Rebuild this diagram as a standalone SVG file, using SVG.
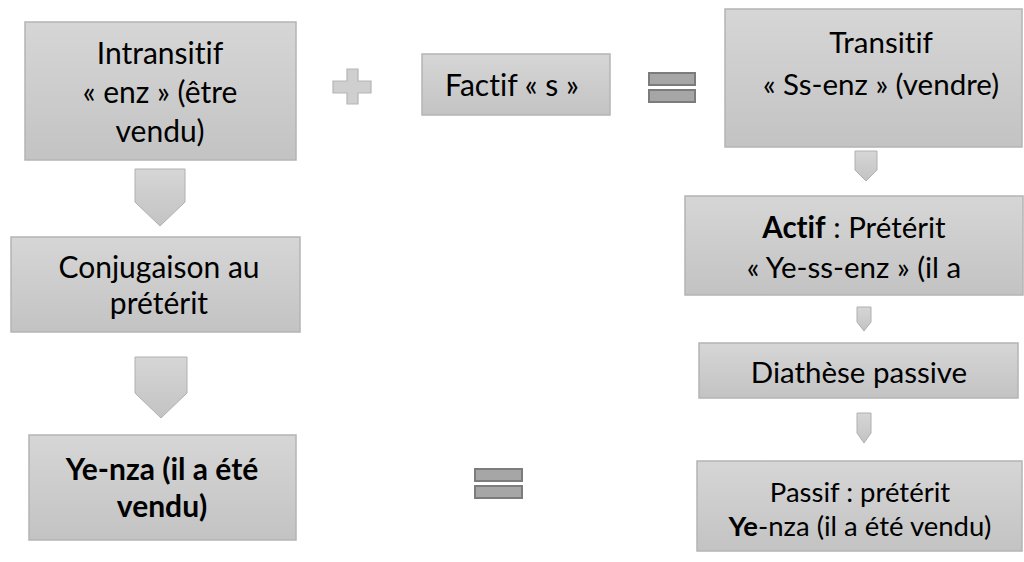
<svg xmlns="http://www.w3.org/2000/svg" width="1024" height="562" viewBox="0 0 1024 562">
<defs>
<linearGradient id="g" x1="0" y1="0" x2="0" y2="1">
<stop offset="0" stop-color="#d6d6d6"/>
<stop offset="1" stop-color="#c3c3c3"/>
</linearGradient>
<style>
.box{fill:url(#g);stroke:#b4b4b4;stroke-width:1.5}
.arr{fill:url(#g);stroke:#b0b0b0;stroke-width:1}
.plus{fill:#cfcfcf;stroke:#b5b5b5;stroke-width:1.2}
.eq{fill:#a6a6a6;stroke:#7c7c7c;stroke-width:2}
text{font-family:Lato,"Liberation Sans",sans-serif;fill:#000;text-anchor:middle;font-variant-ligatures:none;font-feature-settings:"liga" 0,"dlig" 0}
.l{font-size:30px}
.r{font-size:29.5px}
.f{font-size:30px}
.p{font-size:27.5px}
.b{font-weight:bold}
</style>
</defs>
<rect width="1024" height="562" fill="#ffffff"/>
<g id="connectors">
<path class="arr" d="M135,169 H185 V202 L160,226 L135,202 Z"/>
<path class="arr" d="M135,357 H187 V393 L161,418 L135,393 Z"/>
<path class="arr" d="M855,151 H877 V170 L866,181 L855,170 Z"/>
<path class="arr" d="M857,307 H871 V322 L864,331 L857,322 Z"/>
<path class="arr" d="M857,413 H871 V433 L864,443 L857,433 Z"/>
</g>
<g id="plus">
<path class="plus" d="M347,69 H358 V81 H371 V93 H358 V104 H347 V93 H333 V81 H347 Z"/>
</g>
<g id="equals1">
<rect class="eq" x="649" y="73" width="46" height="12"/>
<rect class="eq" x="649" y="90" width="46" height="12"/>
</g>
<g id="equals2">
<rect class="eq" x="475" y="469" width="47" height="12"/>
<rect class="eq" x="475" y="486" width="47" height="12"/>
</g>
<g id="n-intransitif">
<rect class="box" x="25" y="22" width="271" height="138"/>
<text class="l" x="160" y="64">Intransitif</text>
<text class="l" x="160" y="103">« enz » (être</text>
<text class="l" x="160" y="142">vendu)</text>
</g>
<g id="n-conjugaison">
<rect class="box" x="11" y="237" width="289" height="95"/>
<text class="l" x="159" y="278">Conjugaison au</text>
<text class="l" x="159" y="314">prétérit</text>
</g>
<g id="n-yenza">
<rect class="box" x="29" y="435" width="267" height="105"/>
<text class="l b" x="162" y="480">Ye-nza (il a été</text>
<text class="l b" x="162" y="517">vendu)</text>
</g>
<g id="n-factif">
<rect class="box" x="422" y="54" width="188" height="61"/>
<text class="f" x="512" y="96">Factif « s »</text>
</g>
<g id="n-transitif">
<rect class="box" x="725" y="9" width="297" height="138"/>
<text class="r" x="881" y="53">Transitif</text>
<text class="r" x="881" y="95">« Ss-enz » (vendre)</text>
</g>
<g id="n-actif">
<rect class="box" x="685" y="196" width="338" height="99"/>
<text class="r" x="854" y="238"><tspan class="b">Actif</tspan> : Prétérit</text>
<text class="r" x="854" y="278">« Ye-ss-enz » (il a</text>
</g>
<g id="n-diathese">
<rect class="box" x="699" y="343" width="319" height="55"/>
<text class="r" x="859" y="383">Diathèse passive</text>
</g>
<g id="n-passif">
<rect class="box" x="697" y="461" width="325" height="90"/>
<text class="p" x="860" y="502">Passif : prétérit</text>
<text class="p" x="860" y="536"><tspan class="b">Ye</tspan>-nza (il a été vendu)</text>
</g>
</svg>
